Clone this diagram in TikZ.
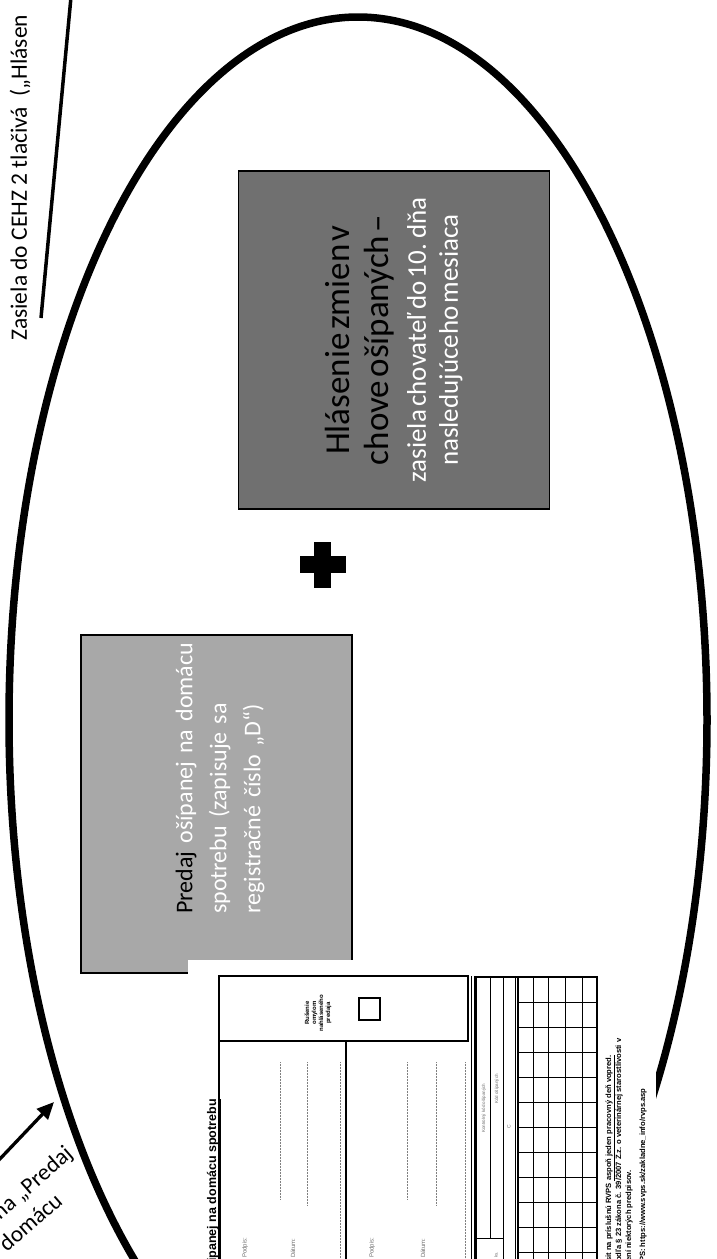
\documentclass[tikz,border=0pt]{standalone}
\usepackage{fontspec}
\setmainfont{Carlito}
\newfontfamily\formfont{Liberation Sans}
\usetikzlibrary{positioning,arrows.meta}

\definecolor{boxdark}{RGB}{112,112,112}
\definecolor{boxlight}{RGB}{168,168,168}
\definecolor{formgray}{RGB}{110,110,110}

\tikzset{
  darkbox/.style={draw=black, line width=1.2pt, fill=boxdark, rotate=90,
    minimum width=338pt, minimum height=311pt, inner sep=0pt},
  lightbox/.style={draw=black, line width=1.2pt, fill=boxlight, rotate=90,
    minimum width=338pt, minimum height=271pt, inner sep=0pt},
  upright/.style={rotate=90, inner sep=0pt},
  tinyform/.style={upright, font=\formfont\fontsize{6}{7}\selectfont, text=formgray},
  footform/.style={upright, anchor=base west, font=\formfont\bfseries\fontsize{7.6}{9}\selectfont},
  fieldline/.style={line width=0.7pt, gray, dash pattern=on 1pt off 0.5pt}
}

\begin{document}
\begin{tikzpicture}[x=1pt,y=-1pt]
\useasboundingbox (0,0) rectangle (716,1259);
\clip (0,0) rectangle (716,1259);
\fill[white] (0,0) rectangle (716,1259);

% the big oval
\draw[line width=7.5pt] (358,720) ellipse [x radius=349, y radius=703];

% note at the top
\coordinate (notelow) at (41,318);
\coordinate (notehigh) at (71,-3);
\draw[line width=3.5pt] (notelow) -- (notehigh);
\node[upright, anchor=base west, font=\fontsize{23.5}{28}\selectfont] (cehznote) at (27,341)
  {Zasiela do CEHZ 2 tlačivá~~(„Hlásen};

% the two boxes
\node[darkbox, text width=330pt, align=center] (zmeny) at (394,340)
  {{\fontsize{35}{39}\selectfont Hlásenie zmien v\\ chove ošípaných –\par}
   \vspace{5pt}
   {\fontsize{27}{32}\selectfont\color{white} zasiela chovateľ do 10. dňa\\ nasledujúceho mesiaca\par}};

\fill (314,542) rectangle (331,588);
\fill (300,556) rectangle (346,573);

\node[lightbox] (predaj) at (216.5,804) {};
\node[upright, anchor=west, text width=300pt, align=left, text=white,
  font=\fontsize{24}{34}\selectfont] (predajtxt) at (220,914)
  {\textcolor{black}{Predaj} ošípanej na domácu\\ spotrebu (zapisuje sa\\ registračné číslo „D“)};

% arrow and its label
\coordinate (arrtail) at (-3,1162);
\coordinate (arrtip) at (54,1102);
\draw[line width=3.3pt, -{Triangle[length=17pt,width=15pt]}] (arrtail) -- (arrtip);
\node[rotate=41, anchor=base east, inner sep=0pt, font=\fontsize{23}{28}\selectfont] (predajlbl) at (74,1156) {na „Predaj};
\node[rotate=41, anchor=base east, inner sep=0pt, font=\fontsize{23}{28}\selectfont] (domaculbl) at (64,1203) {domácu};

% pasted form
\fill[white] (188,960) rectangle (656,1262);
\node[upright, anchor=base west, font=\formfont\bfseries\fontsize{12.5}{14}\selectfont] (formtitle) at (216,1262)
  {\underline{ipanej na domácu spotrebu}};

\begin{scope}[line width=1.6pt]
\draw (219,1262) -- (219,976) -- (468,976) -- (468,1041) -- (219,1041);
\draw (346,1041) -- (346,1262);
\draw (359,998) rectangle (380,1020);
\end{scope}
\draw[line width=0.8pt] (471,976) -- (471,1262) (474,976) -- (474,1262);

\node[upright, align=center, font=\formfont\bfseries\fontsize{6}{7}\selectfont] (rusenie) at (318,1013)
  {Rušenie\\ omylom\\ nahláseného\\ predaja};

\node[tinyform, anchor=west] (podpis1) at (245,1258) {Podpis:};
\node[tinyform, anchor=west] (datum1) at (293,1258) {Dátum:};
\node[tinyform, anchor=west] (podpis2) at (372,1258) {Podpis:};
\node[tinyform, anchor=west] (datum2) at (423,1258) {Dátum:};
\draw[fieldline] (280,1062) -- (280,1200) (307,1062) -- (307,1205) (340,1062) -- (340,1262);
\draw[fieldline] (407,1062) -- (407,1200) (436,1062) -- (436,1205) (465,1062) -- (465,1262);

% right part of the form with the grid
\draw[line width=1.2pt] (476,1262) -- (476,977) -- (597,977) -- (597,1262);
\draw[line width=0.5pt] (490,977) -- (490,1238) (476,1238) -- (503,1238);
\draw[line width=0.8pt] (503,977) -- (503,1262);
\draw[line width=1pt] (515,977) -- (515,1262);
\draw[line width=1.2pt] (518,977) -- (518,1262);
\foreach \gx in {533,548,565,582}
  \draw[line width=0.6pt] (\gx,977) -- (\gx,1262);
\foreach \gy in {1002,1027,...,1252}
  \draw[line width=0.6pt] (518,\gy) -- (597,\gy);
\node[tinyform, anchor=west, font=\formfont\fontsize{4.5}{5}\selectfont] (kontrola) at (484,1133) {Kontrolný kód ošípaných};
\node[tinyform, anchor=west, font=\formfont\fontsize{4.5}{5}\selectfont] (kod) at (497,1104) {Kód ošípaných};
\node[tinyform, font=\formfont\fontsize{5}{6}\selectfont] (ckod) at (509,1127) {C};
\node[tinyform, anchor=west, font=\formfont\fontsize{4.5}{5}\selectfont] (kusy) at (496,1258) {ks.};

\node[footform] (foot1) at (611,1262) {sit na príslušnú RVPS \underline{aspoň jeden pracovný deň vopred.}};
\node[footform] (foot2) at (621,1262) {odľa § 23 zákona č. 39/2007 Z.z. o veterinárnej starostlivosti v};
\node[footform] (foot3) at (631,1262) {ení niektorých predpisov.};
\node[footform] (foot4) at (645,1262) {PS: https://www.svps.sk/zakladne\_info/rvps.asp};
\end{tikzpicture}
\end{document}
